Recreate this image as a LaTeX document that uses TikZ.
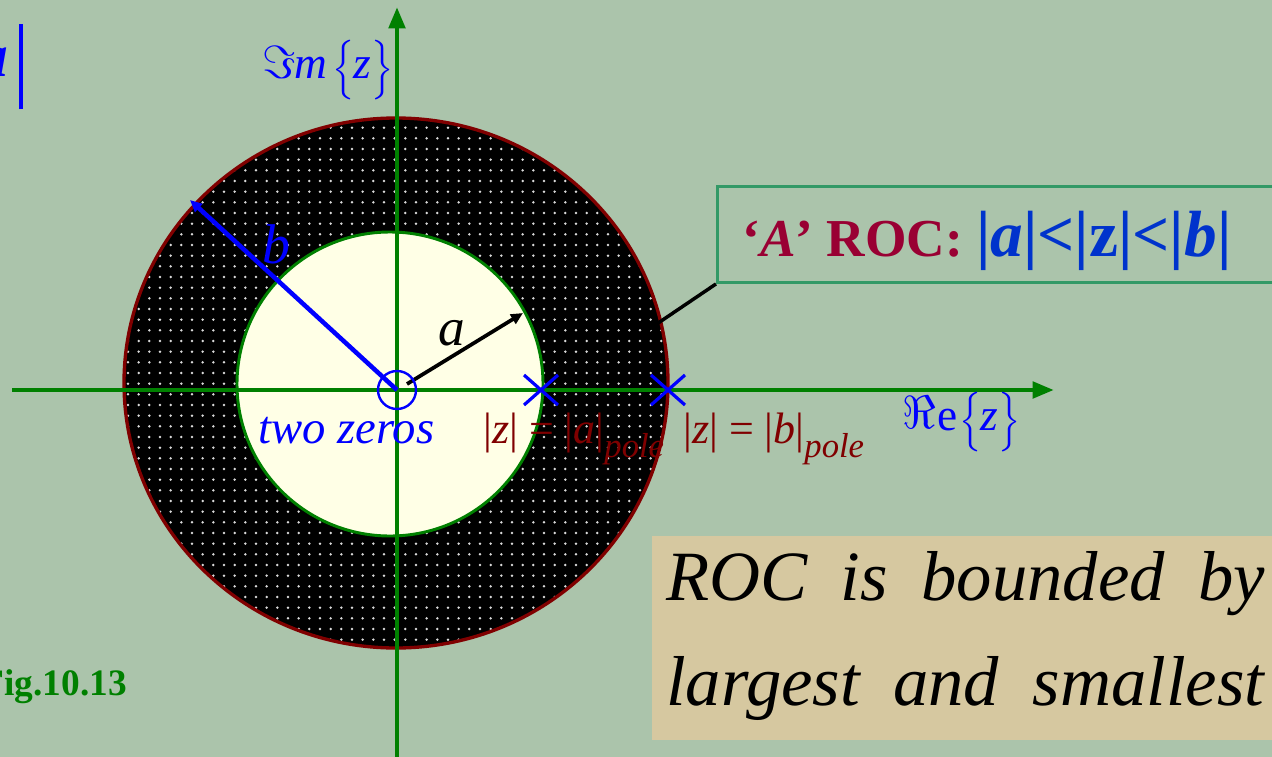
\documentclass[tikz,border=0pt]{standalone}
\usepackage{exscale}
\usepackage{fontspec}
\setmainfont{Liberation Serif}
\usetikzlibrary{arrows.meta,patterns.meta}
\definecolor{bg}{RGB}{171,196,171}
\definecolor{darkred}{RGB}{128,0,0}
\definecolor{crim}{RGB}{153,0,51}
\definecolor{boxblue}{RGB}{0,51,204}
\definecolor{axgreen}{RGB}{0,128,0}
\definecolor{boxgreen}{RGB}{51,153,102}
\definecolor{tan}{RGB}{214,200,160}
\definecolor{innerfill}{RGB}{255,255,230}
\tikzset{
  axis/.style={axgreen,line width=3.6pt,-{Triangle[length=16pt,width=12pt]}},
  cross/.style={blue,line width=2.4pt},
  lbl/.style={inner sep=0pt,anchor=base west},
}
\newcommand{\fs}[1]{\fontsize{#1}{1.2\dimexpr#1pt\relax}\selectfont}
\newcommand{\bigbr}[1]{$\left\{\vrule height 27pt depth 7pt width 0pt\right.\kern-2pt$#1$\kern-1pt\left.\vrule height 27pt depth 7pt width 0pt\right\}$}
\begin{document}
\begin{tikzpicture}[x=0.75pt,y=-0.75pt]
\clip (0,0) rectangle (1272,757);
\fill[bg] (0,0) rectangle (1272,757);
% ring
\fill[black] (396,383) ellipse [x radius=272, y radius=265];
\fill[pattern={Dots[distance=8pt,radius=1.05pt]},pattern color=white!85!black] (396,383) ellipse [x radius=272, y radius=265];
\draw[darkred,line width=2.5pt] (396,383) ellipse [x radius=272, y radius=265];
\filldraw[fill=innerfill,draw=axgreen,line width=2.2pt] (390,384) ellipse [x radius=153, y radius=152];
% axes
\coordinate (xl) at (12,390);
\coordinate (xr) at (1054,390);
\coordinate (yb) at (397,765);
\coordinate (yt) at (397,7);
\draw[axis] (xl) -- (xr);
\draw[axis] (yb) -- (yt);
% centre, radii
\coordinate (O) at (397,390);
\coordinate (Ob) at (190,200);
\coordinate (Oa1) at (407,384);
\coordinate (Oa) at (523,313);
\draw[blue,line width=3.4pt,-{Triangle[length=9pt,width=8pt]}] (O) -- (Ob);
\draw[black,line width=2.8pt,-{Triangle[length=9pt,width=8pt]}] (Oa1) -- (Oa);
\node[draw=blue,line width=1.8pt,circle,minimum size=28.5pt,inner sep=0pt] (zero) at (O) {};
% poles
\coordinate (pa) at (541,390);
\coordinate (pb) at (668,390);
\draw[cross] ([shift={(-17,-15)}]pa) -- ([shift={(17,15)}]pa);
\draw[cross] ([shift={(-17,15)}]pa) -- ([shift={(17,-15)}]pa);
\draw[cross] ([shift={(-17,-15)}]pb) -- ([shift={(17,15)}]pb);
\draw[cross] ([shift={(-17,15)}]pb) -- ([shift={(17,-15)}]pb);
% labels
\node[lbl,text=blue] (lb) at (262,263) {\fs{42}\itshape b};
\node[lbl,text=black] (la) at (438,345) {\fs{40}\itshape a};
\node[lbl,text=blue] (tz) at (258,443) {\fs{35}\itshape two zeros};
\node[lbl,text=darkred] (za) at (483,443) {\fs{33}|\textit{z}| = |\textit{a}|\raisebox{-11pt}{\fs{26}\itshape pole}};
\node[lbl,text=darkred] (zb) at (683,443) {\fs{33}|\textit{z}| = |\textit{b}|\raisebox{-11pt}{\fs{26}\itshape pole}};
\node[lbl,text=blue] (re) at (902,430) {\fs{34}\raisebox{1pt}{\scalebox{1.4}{$\Re$}}\kern1pt e\kern2pt\bigbr{\textit{z}}};
\node[lbl,text=blue] (im) at (262,78) {\fs{34}\scalebox{1.4}{$\Im$}\kern-1pt\textit{m}\kern4pt\bigbr{\textit{z}}};
\node[lbl,anchor=base east,text=blue] (tl) at (23,76) {\fs{46}\bfseries\itshape a\hspace{8pt}\rule[-25pt]{2.6pt}{64pt}};
\node[lbl,anchor=base east,text=axgreen] (fig) at (127,695) {\fs{28}\bfseries Fig.10.13};
% ROC box
\node[draw=boxgreen,line width=2.2pt,anchor=north west,minimum width=430pt,minimum height=72pt,inner sep=0pt] (box) at (716,185) {};
\node[lbl] (roc) at (742,256) {\fs{40}\bfseries\textcolor{crim}{‘\textit{A}’ ROC: }\textcolor{boxblue}{\fs{49}|\textit{a}|<|z|<|\textit{b}|}};
\coordinate (ldr) at (636,338);
\draw[black,line width=2.6pt] (box.south west) -- (ldr);
% tan box
\node[fill=tan,anchor=north west,minimum width=480pt,minimum height=153pt,inner sep=0pt] (tanbox) at (652,536) {};
\node[lbl] (t1) at (666,600) {\fs{53}\itshape\spaceskip=25pt ROC is bounded by};
\node[lbl] (t2) at (666,705) {\fs{53}\itshape\spaceskip=25pt largest and smallest};
\end{tikzpicture}
\end{document}
